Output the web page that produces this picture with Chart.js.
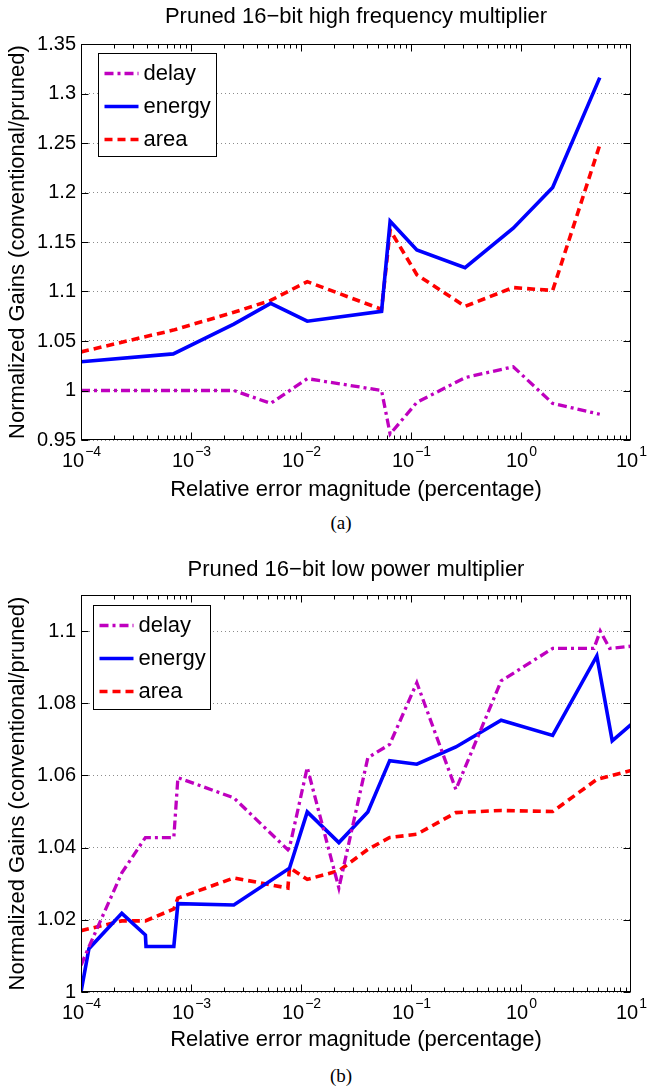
<!DOCTYPE html>
<html>
<head>
<meta charset="utf-8">
<script src="https://cdn.jsdelivr.net/npm/chart.js@4.4.0/dist/chart.umd.min.js"></script>
<style>
  html, body { margin: 0; padding: 0; background: #fff; }
  body { width: 649px; height: 1089px; position: relative; overflow: hidden; }
  canvas { position: absolute; left: 0; }
  .cap { position: absolute; width: 60px; text-align: center; font-family: 'Liberation Serif', serif; font-size: 19px; line-height: 20px; color: #000; }
</style>
</head>
<body>
<canvas id="chartA" width="649" height="505" style="top:0px"></canvas>
<div class="cap" style="left:311px;top:513px">(a)</div>
<canvas id="chartB" width="649" height="507" style="top:548px"></canvas>
<div class="cap" style="left:311px;top:1066px">(b)</div>
<script>
    // x tick exponents (10^k) shared by both panels
    var xTickExps = [-4, -3, -2, -1, 0, 1];

    // (a) Pruned 16-bit high frequency multiplier
    var xA = [1e-4, 6.9e-4, 2.45e-3, 5.3e-3, 0.0114, 0.054, 0.0646, 0.113, 0.31, 0.85, 1.94, 5.2];
    var delayA = [1.0, 1.0, 1.0, 0.987, 1.012, 1.0, 0.956, 0.988, 1.013, 1.024, 0.987, 0.976];
    var energyA = [1.029, 1.037, 1.067, 1.088, 1.070, 1.080, 1.171, 1.142, 1.124, 1.164, 1.205, 1.316];
    var areaA = [1.039, 1.061, 1.079, 1.091, 1.110, 1.082, 1.162, 1.117, 1.085, 1.104, 1.101, 1.248];
    var yTicksA = [0.95, 1, 1.05, 1.1, 1.15, 1.2, 1.25, 1.3, 1.35];

    // (b) Pruned 16-bit low power multiplier
    var delayBX = [1e-4, 1.18e-4, 2.35e-4, 3.85e-4, 6.98e-4, 7.6e-4, 2.45e-3, 7.6e-3, 7.86e-3, 0.0114, 0.0221, 0.0405, 0.064, 0.113, 0.256, 0.66, 1.94, 4.6, 5.25, 6.4, 10];
    var delayBY = [1.0074, 1.0125, 1.033, 1.0428, 1.0428, 1.0594, 1.0538, 1.0394, 1.040, 1.0622, 1.0288, 1.0649, 1.0686, 1.0857, 1.0561, 1.0862, 1.0952, 1.0952, 1.1, 1.0952, 1.0958];
    var energyBX = [1e-4, 1.18e-4, 2.35e-4, 3.85e-4, 3.9e-4, 6.98e-4, 7.6e-4, 2.45e-3, 7.86e-3, 0.0114, 0.0221, 0.0405, 0.064, 0.113, 0.256, 0.66, 1.94, 4.89, 6.75, 10];
    var energyBY = [1.0, 1.012, 1.0218, 1.0158, 1.0126, 1.0126, 1.0245, 1.0241, 1.0343, 1.0499, 1.0414, 1.0499, 1.0641, 1.0631, 1.0679, 1.0753, 1.0711, 1.0931, 1.0696, 1.0741];
    var areaBX = [1e-4, 1.18e-4, 2.35e-4, 3.85e-4, 6.98e-4, 7.6e-4, 2.45e-3, 7.6e-3, 7.86e-3, 0.0114, 0.0221, 0.0405, 0.064, 0.113, 0.256, 0.66, 1.94, 4.89, 10];
    var areaBY = [1.017, 1.0175, 1.0197, 1.0197, 1.023, 1.026, 1.0316, 1.0288, 1.0345, 1.0312, 1.0336, 1.0395, 1.0428, 1.0437, 1.0497, 1.0503, 1.05, 1.0589, 1.0614];
    var yTicksB = [1, 1.02, 1.04, 1.06, 1.08, 1.1];

    var FONT = "'Liberation Sans', Arial, Helvetica, sans-serif";
    Chart.defaults.font.family = FONT;
    Chart.defaults.color = '#000';

    function series(label, xs, ys, color, width, dash) {
        return {
            label: label,
            data: xs.map(function (x, i) { return {x: x, y: ys[i]}; }),
            borderColor: color,
            backgroundColor: color,
            borderWidth: width,
            borderDash: dash,
            pointRadius: 0,
            tension: 0,
            fill: false
        };
    }

    // MATLAB-like box, inward ticks, 10^k labels and legend
    var matlabAxes = {
        id: 'matlabAxes',
        afterDraw: function (chart, args, opts) {
            var c = chart.ctx, a = chart.chartArea, sx = chart.scales.x, sy = chart.scales.y;
            var L = Math.round(a.left) + 0.5, R = Math.round(a.right) - 0.5;
            var T = Math.round(a.top) + 0.5, B = Math.round(a.bottom) - 0.5;
            c.save();
            c.strokeStyle = '#000';
            c.lineWidth = 1;
            c.setLineDash([]);
            c.beginPath();
            for (var e = xTickExps[0]; e < xTickExps[xTickExps.length - 1]; e++) {
                for (var m = 1; m < 10; m++) {
                    var px = Math.round(sx.getPixelForValue(m * Math.pow(10, e))) + 0.5;
                    var len = m === 1 ? 7 : 4;
                    c.moveTo(px, B); c.lineTo(px, B - len);
                    c.moveTo(px, T); c.lineTo(px, T + len);
                }
            }
            sy.ticks.forEach(function (t) {
                var py = Math.round(sy.getPixelForValue(t.value)) + 0.5;
                c.moveTo(L, py); c.lineTo(L + 7, py);
                c.moveTo(R, py); c.lineTo(R - 7, py);
            });
            c.stroke();
            c.strokeRect(L, T, R - L, B - T);

            // x tick labels 10^k
            c.fillStyle = '#000';
            c.textBaseline = 'middle';
            c.textAlign = 'left';
            xTickExps.forEach(function (k) {
                var px = sx.getPixelForValue(Math.pow(10, k));
                var ex = (k < 0 ? '\u2212' + (-k) : '' + k);
                c.font = '20px ' + FONT;
                var w1 = c.measureText('10').width;
                c.font = '14px ' + FONT;
                var w2 = c.measureText(ex).width;
                var x0 = px - (w1 + w2) / 2;
                var yy = a.bottom + 21;
                c.font = '20px ' + FONT;
                c.fillText('10', x0, yy);
                c.font = '14px ' + FONT;
                c.fillText(ex, x0 + w1 + 1, yy - 9);
            });

            // legend
            var lx = Math.round(a.left + opts.dx) + 0.5, ly = Math.round(a.top + opts.dy) + 0.5;
            c.fillStyle = '#fff';
            c.fillRect(lx, ly, opts.w, opts.h);
            c.strokeStyle = '#000';
            c.lineWidth = 1;
            c.strokeRect(lx, ly, opts.w, opts.h);
            c.font = '22px ' + FONT;
            chart.data.datasets.forEach(function (ds, i) {
                var yy = ly + 20 + i * 33;
                c.beginPath();
                c.strokeStyle = ds.borderColor;
                c.lineWidth = ds.borderWidth;
                c.setLineDash(ds.borderDash || []);
                c.moveTo(lx + 6, yy);
                c.lineTo(lx + 40, yy);
                c.stroke();
                c.setLineDash([]);
                c.fillStyle = '#000';
                c.fillText(ds.label, lx + 45, yy);
            });
            c.restore();
        }
    };

    function makeChart(id, title, datasets, yMin, yMax, yTicks, pad, legend) {
        var ctx = document.getElementById(id);
        return new Chart(ctx, {
            type: 'line',
            data: {datasets: datasets},
            plugins: [matlabAxes],
            options: {
                responsive: false,
                animation: false,
                layout: {padding: {left: 0, right: 18, top: 0, bottom: 0}},
                plugins: {
                    legend: {display: false},
                    tooltip: {enabled: false},
                    title: {
                        display: true,
                        text: title,
                        fullSize: false,
                        font: {size: 22, weight: 'normal'},
                        color: '#000',
                        padding: {top: pad.titleTop, bottom: pad.titleBottom}
                    },
                    matlabAxes: legend
                },
                scales: {
                    x: {
                        type: 'logarithmic',
                        min: 1e-4,
                        max: 10,
                        grid: {display: false},
                        border: {display: false},
                        ticks: {display: false},
                        title: {
                            display: true,
                            text: 'Relative error magnitude (percentage)',
                            font: {size: 22},
                            color: '#000',
                            padding: {top: 0, bottom: 2}
                        },
                        afterFit: function (s) { s.height = pad.xHeight; }
                    },
                    y: {
                        min: yMin,
                        max: yMax,
                        afterBuildTicks: function (s) {
                            s.ticks = yTicks.map(function (v) { return {value: v}; });
                        },
                        ticks: {
                            font: {size: 20},
                            color: '#000',
                            padding: 5,
                            callback: function (v) { return String(+Number(v).toFixed(2)); }
                        },
                        grid: {color: '#8c8c8c', lineWidth: 1, drawTicks: false},
                        border: {display: false, dash: [1, 3]},
                        title: {
                            display: true,
                            text: 'Normalized Gains (conventional/pruned)',
                            font: {size: 22},
                            color: '#000',
                            padding: {top: 5, bottom: 0}
                        },
                        afterFit: function (s) { s.width = 81; }
                    }
                }
            }
        });
    }

    var chartA = makeChart('chartA', 'Pruned 16\u2212bit high frequency multiplier', [
        series('delay', xA, delayA, '#bf00bf', 3.3, [9, 4, 3, 4]),
        series('energy', xA, energyA, '#0000ff', 3.6, []),
        series('area', xA, areaA, '#ff0000', 3.6, [8, 5])
    ], 0.95, 1.35, yTicksA, {titleTop: 4, titleBottom: 13.6, xHeight: 65}, {dx: 17, dy: 9, w: 118, h: 103});

    var chartB = makeChart('chartB', 'Pruned 16\u2212bit low power multiplier', [
        series('delay', delayBX, delayBY, '#bf00bf', 3.3, [9, 4, 3, 4]),
        series('energy', energyBX, energyBY, '#0000ff', 3.6, []),
        series('area', areaBX, areaBY, '#ff0000', 3.6, [8, 5])
    ], 1, 1.11, yTicksB, {titleTop: 8.8, titleBottom: 11.8, xHeight: 63}, {dx: 12, dy: 10, w: 117, h: 104});
</script>
</body>
</html>
